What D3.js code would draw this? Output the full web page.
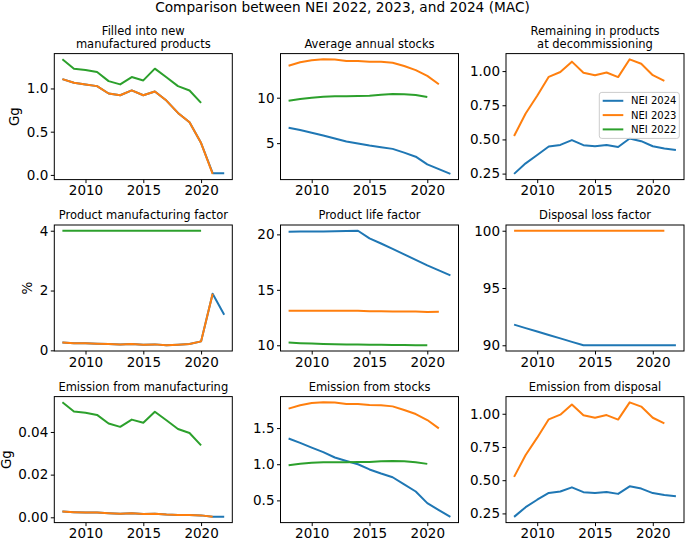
<!DOCTYPE html>
<html><head><meta charset="utf-8">
<script src="https://cdn.jsdelivr.net/npm/d3@7"></script>
<style>body{margin:0;background:#fff} svg{display:block} text{font-family:"DejaVu Sans",sans-serif;fill:#000}</style>
</head><body><svg id="c" width="685" height="539"></svg>
<script>
// ---------- data ----------
const years = [2008,2009,2010,2011,2012,2013,2014,2015,2016,2017,2018,2019,2020,2021,2022];
const seriesNames = ["NEI 2024","NEI 2023","NEI 2022"];
const seriesColors = ["#1f77b4","#ff7f0e","#2ca02c"];
const xTicks = [2010,2015,2020];

// Filled into new manufactured products (Gg)
const filled2024 = [1.108,1.066,1.047,1.027,0.942,0.922,0.977,0.922,0.965,0.860,0.717,0.608,0.368,0.020,0.020];
const filled2023 = [1.108,1.066,1.047,1.027,0.942,0.922,0.977,0.922,0.965,0.860,0.717,0.608,0.368,0.012];
const filled2022 = [1.337,1.229,1.213,1.190,1.085,1.047,1.132,1.093,1.229,1.130,1.027,0.977,0.834];
// Average annual stocks (Gg)
const stocks2024 = [6.70,6.44,6.14,5.84,5.51,5.18,4.96,4.73,4.56,4.37,3.96,3.51,2.67,2.14,1.62];
const stocks2023 = [13.51,13.89,14.11,14.22,14.19,14.03,14.03,13.96,13.96,13.85,13.48,13.03,12.40,11.48];
const stocks2022 = [9.67,9.85,10.00,10.11,10.15,10.15,10.19,10.22,10.33,10.41,10.37,10.30,10.07];
// Remaining in products at decommissioning (Gg)
const remain2024 = [0.248,0.325,0.386,0.448,0.460,0.495,0.458,0.450,0.460,0.445,0.507,0.487,0.450,0.433,0.423];
const remain2023 = [0.525,0.690,0.820,0.958,0.993,1.069,0.988,0.970,0.990,0.956,1.086,1.054,0.970,0.928];
// Product manufacturing factor (%)
const mfg2024 = [0.26,0.24,0.24,0.225,0.21,0.20,0.21,0.19,0.20,0.17,0.19,0.21,0.30,1.89,1.19];
const mfg2023 = [0.26,0.24,0.24,0.225,0.21,0.20,0.21,0.19,0.20,0.17,0.19,0.21,0.30,1.89];
const mfg2022 = [4,4,4,4,4,4,4,4,4,4,4,4,4];
// Product life factor (%)
const life2024 = [20.24,20.25,20.26,20.27,20.28,20.30,20.33,19.64,19.18,18.70,18.20,17.70,17.20,16.76,16.30];
const life2023 = [13.12,13.12,13.12,13.12,13.12,13.12,13.12,13.07,13.06,13.05,13.05,13.04,13.01,13.03];
const life2022 = [10.24,10.19,10.15,10.12,10.09,10.07,10.06,10.05,10.04,10.03,10.02,10.01,10.00];
// Disposal loss factor (%)
const disp2024 = [91.8,91.5,91.2,90.9,90.6,90.3,90.0,90.0,90.0,90.0,90.0,90.0,90.0,90.0,90.0];
const disp2023 = [100,100,100,100,100,100,100,100,100,100,100,100,100,100];
// Emission from manufacturing (Gg)
const emMfg2024 = [0.0027,0.0024,0.0022,0.0022,0.0019,0.0017,0.0019,0.0016,0.0017,0.0013,0.0011,0.0011,0.0009,0.0003,0.0002];
const emMfg2023 = [0.0027,0.0024,0.0022,0.0022,0.0019,0.0017,0.0019,0.0016,0.0017,0.0013,0.0011,0.0011,0.0009,0.0003];
const emMfg2022 = [0.0539,0.0496,0.0490,0.0480,0.0440,0.0424,0.0458,0.0443,0.0495,0.0455,0.0414,0.0395,0.0337];
// Emission from stocks (Gg)
const emStk2024 = [1.356,1.296,1.230,1.167,1.093,1.045,1.000,0.928,0.872,0.820,0.721,0.623,0.462,0.365,0.272];
const emStk2023 = [1.769,1.815,1.847,1.856,1.852,1.833,1.833,1.820,1.815,1.800,1.750,1.694,1.611,1.495];
const emStk2022 = [0.986,1.005,1.019,1.028,1.028,1.028,1.032,1.032,1.042,1.046,1.042,1.028,1.005];
// Emission from disposal (Gg)
const emDisp2024 = [0.224,0.297,0.353,0.404,0.415,0.446,0.410,0.403,0.412,0.397,0.454,0.437,0.403,0.388,0.380];
const emDisp2023 = [0.525,0.690,0.820,0.958,0.993,1.069,0.988,0.970,0.990,0.956,1.086,1.054,0.970,0.928];

// y tick values per panel
const ticks1 = [0.0,0.5,1.0], ticks2 = [5,10], ticks3 = [0.25,0.50,0.75,1.00];
const ticks4 = [0,2,4], ticks5 = [10,15,20], ticks6 = [90,95,100];
const ticks7 = [0.00,0.02,0.04], ticks8 = [0.5,1.0,1.5], ticks9 = [0.25,0.50,0.75,1.00];

const panels = [
  {title:["Filled into new","manufactured products"], series:[filled2024,filled2023,filled2022], ticks:ticks1, fmt:".1f", ylabel:"Gg"},
  {title:["Average annual stocks"], series:[stocks2024,stocks2023,stocks2022], ticks:ticks2, fmt:"d"},
  {title:["Remaining in products","at decommissioning"], series:[remain2024,remain2023,null], ticks:ticks3, fmt:".2f", legend:true},
  {title:["Product manufacturing factor"], series:[mfg2024,mfg2023,mfg2022], ticks:ticks4, fmt:"d", ylabel:"%"},
  {title:["Product life factor"], series:[life2024,life2023,life2022], ticks:ticks5, fmt:"d"},
  {title:["Disposal loss factor"], series:[disp2024,disp2023,null], ticks:ticks6, fmt:"d"},
  {title:["Emission from manufacturing"], series:[emMfg2024,emMfg2023,emMfg2022], ticks:ticks7, fmt:".2f", ylabel:"Gg"},
  {title:["Emission from stocks"], series:[emStk2024,emStk2023,emStk2022], ticks:ticks8, fmt:".1f"},
  {title:["Emission from disposal"], series:[emDisp2024,emDisp2023,null], ticks:ticks9, fmt:".2f"}
];

// ---------- layout ----------
const colLeft = [54.3, 280.5, 506];
const rowTop = [53.6, 225, 396.6];
const W = 178, H = 126;
const tickFont = 13.5;

const svg = d3.select("#c");
svg.append("text").attr("x", 342.5).attr("y", 11.5).attr("text-anchor","middle")
  .style("font-size","13.7px").text("Comparison between NEI 2022, 2023, and 2024 (MAC)");

const defs = svg.append("defs");

panels.forEach((p, i) => {
  const col = i % 3, row = Math.floor(i / 3);
  const L = colLeft[col], T = rowTop[row];
  const g = svg.append("g").attr("transform", `translate(${L},${T})`);

  const x = d3.scaleLinear().domain([2007.3, 2022.7]).range([0, W]);
  const all = p.series.filter(s => s).flat();
  const [mn, mx] = d3.extent(all);
  const pad = (mx - mn) * 0.05;
  const y = d3.scaleLinear().domain([mn - pad, mx + pad]).range([H, 0]);

  defs.append("clipPath").attr("id", "cp" + i).append("rect").attr("width", W).attr("height", H);

  const line = d3.line().x((d, k) => x(years[k])).y(d => y(d));
  const lg = g.append("g").attr("clip-path", `url(#cp${i})`);
  p.series.forEach((s, si) => {
    if (!s) return;
    lg.append("path").datum(s).attr("d", line).attr("fill","none")
      .attr("stroke", seriesColors[si]).attr("stroke-width", 2)
      .attr("stroke-linejoin","round").attr("stroke-linecap","butt");
  });

  // axes
  const xa = g.append("g").attr("transform", `translate(0,${H})`)
    .call(d3.axisBottom(x).tickValues(xTicks).tickFormat(d3.format("d")).tickSize(3.5).tickPadding(2.5));
  const ya = g.append("g")
    .call(d3.axisLeft(y).tickValues(p.ticks).tickFormat(d3.format(p.fmt)).tickSize(3.5).tickPadding(2.5));
  [xa, ya].forEach(a => {
    a.select(".domain").remove();
    a.selectAll("line").attr("stroke","#000").attr("stroke-width",1);
    a.selectAll("text").style("font-size", tickFont + "px").style("font-family","'DejaVu Sans',sans-serif").attr("fill","#000");
  });

  g.append("rect").attr("width", W).attr("height", H).attr("fill","none")
    .attr("stroke","#000").attr("stroke-width",1);

  // title
  const nl = p.title.length;
  p.title.forEach((t, k) => {
    g.append("text").attr("x", W / 2).attr("y", -6 - (nl - 1 - k) * 12.5)
      .attr("text-anchor","middle").style("font-size","11.5px").text(t);
  });

  // y label
  if (p.ylabel) {
    let minX = 0;
    ya.selectAll("text").each(function(){ const b = this.getBBox(); minX = Math.min(minX, b.x); });
    const cx = minX - 12.5;
    g.append("text").attr("transform", `translate(${cx},${H/2}) rotate(-90)`)
      .attr("text-anchor","middle").attr("dominant-baseline","central")
      .style("font-size","13.5px").text(p.ylabel);
  }

  // legend
  if (p.legend) {
    const lgX = 93.3, lgY = 38.8;
    const leg = g.append("g").attr("transform", `translate(${lgX},${lgY})`);
    leg.append("rect").attr("width", 80).attr("height", 46).attr("rx", 2.5)
      .attr("fill","#fff").attr("fill-opacity",0.8).attr("stroke","#cccccc").attr("stroke-width",1);
    seriesNames.forEach((n, k) => {
      const cy = 8.4 + k * 14.3;
      leg.append("line").attr("x1", 3.4).attr("x2", 24).attr("y1", cy).attr("y2", cy)
        .attr("stroke", seriesColors[k]).attr("stroke-width", 2);
      leg.append("text").attr("x", 31.7).attr("y", cy).attr("dominant-baseline","central")
        .style("font-size","10px").text(n);
    });
  }
});
</script>
</body></html>
